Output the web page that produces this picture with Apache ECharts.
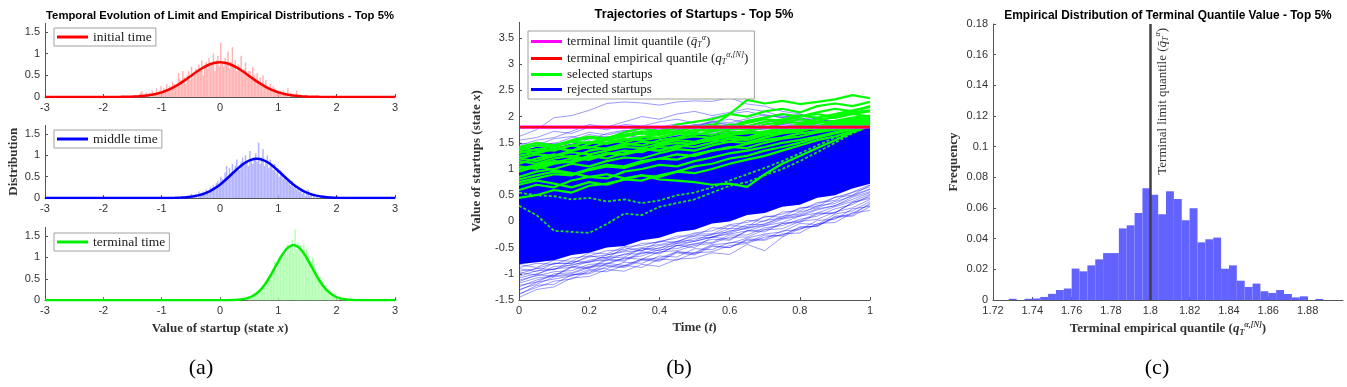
<!DOCTYPE html>
<html><head><meta charset="utf-8">
<script src="https://cdn.jsdelivr.net/npm/echarts@6/dist/echarts.min.js"></script>
<style>html,body{margin:0;padding:0;background:#fff}#c{width:1347px;height:387px}</style>
</head><body><div id="c"></div><script>
// ---------- DATA ----------
// (a) histograms: bin start, bin width, heights
const histInitialStart = -1.5, histMiddleStart = -0.6, histTerminalStart = 0.4, histBinWidth = 0.025;
const histInitial = [
 0,0,0.05,0,0,0.1,0.13,0.05,0,0.1,
 0.05,0.1,0,0.15,0.1,0.05,0.2,0.1,0.15,0.25,
 0.1,0.2,0.15,0.3,0.2,0.25,0.15,0.35,0.3,0.25,
 0.3,0.55,0.4,0.35,0.6,0.45,0.3,0.5,0.6,0.4,
 0.7,0.45,0.5,0.65,0.55,0.75,0.6,0.85,0.5,0.7,
 0.8,0.65,0.9,0.7,0.75,1.0,0.6,0.85,0.95,0.7,
 1.25,0.8,0.7,0.9,0.75,1.05,0.65,0.8,1.15,0.7,
 0.85,0.6,0.75,0.7,0.95,0.55,0.65,0.8,0.5,0.6,
 0.6,0.45,0.7,0.5,0.4,0.55,0.35,0.45,0.3,0.5,
 0.3,0.4,0.25,0.2,0.3,0.15,0.25,0.2,0.1,0.15,
 0.1,0.15,0.05,0.15,0.1,0.05,0.2,0,0.1,0.05,
 0,0.05,0.15,0,0,0.05,0,0,0,0];
const histMiddle = [
 0,0.05,0,0,0.1,0,0.05,0.1,0,0.15,
 0.05,0.1,0.15,0.1,0.2,0.15,0.1,0.25,0.2,0.3,
 0.25,0.35,0.4,0.3,0.5,0.45,0.35,0.6,0.75,0.5,
 0.7,0.55,0.8,0.6,0.75,0.9,0.7,0.65,0.85,0.95,
 0.8,1.0,0.85,0.75,1.1,0.9,0.8,0.95,1.05,0.85,
 1.3,0.8,0.95,1.15,0.75,0.85,1.0,0.7,0.9,0.75,
 0.65,0.8,0.6,0.7,0.5,0.65,0.55,0.45,0.5,0.4,
 0.45,0.35,0.3,0.4,0.25,0.3,0.2,0.25,0.15,0.2,
 0.1,0.15,0.05,0.1,0.2,0.05,0.1,0,0.05,0,
 0.05,0,0,0.05,0,0];
const histTerminal = [
 0,0.05,0,0.1,0.05,0.05,0.1,0.15,0.1,0.2,
 0.2,0.25,0.3,0.35,0.3,0.45,0.4,0.55,0.5,0.6,
 0.75,0.9,0.7,0.85,1.0,0.95,1.1,1.0,1.2,1.05,
 1.3,1.15,1.25,1.4,1.1,1.65,1.2,1.35,1.25,1.3,
 1.15,1.3,1.0,1.2,1.05,0.95,0.7,1.0,0.85,0.75,
 0.65,0.5,0.55,0.4,0.45,0.3,0.35,0.25,0.2,0.25,
 0.15,0.1,0.15,0.05,0.1,0.05,0,0.05,0.05,0,
 0,0.05,0,0,0.05,0,0,0,0,0];
// (a) limit densities [x, density]
const curveInitial = [[-3,0],[-2.2,0],[-1.9,0.001],[-1.7,0.003],[-1.6,0.005],[-1.5,0.009],[-1.4,0.016],[-1.3,0.027],[-1.2,0.045],[-1.1,0.071],[-1.0,0.108],[-0.9,0.158],[-0.8,0.222],[-0.7,0.300],[-0.6,0.389],[-0.5,0.485],[-0.4,0.581],[-0.3,0.668],[-0.2,0.738],[-0.1,0.784],[0,0.800],[0.1,0.784],[0.2,0.738],[0.3,0.668],[0.4,0.581],[0.5,0.485],[0.6,0.389],[0.7,0.300],[0.8,0.222],[0.9,0.158],[1.0,0.108],[1.1,0.071],[1.2,0.045],[1.3,0.027],[1.4,0.016],[1.5,0.009],[1.6,0.005],[1.7,0.003],[1.9,0.001],[2.2,0],[3,0]];
const curveMiddle = [[-3,0],[-1.5,0],[-0.97,0.001],[-0.77,0.005],[-0.67,0.010],[-0.57,0.019],[-0.47,0.035],[-0.37,0.062],[-0.27,0.103],[-0.17,0.163],[-0.07,0.245],[0.03,0.348],[0.13,0.468],[0.23,0.597],[0.33,0.722],[0.43,0.826],[0.53,0.895],[0.63,0.920],[0.73,0.895],[0.83,0.826],[0.93,0.722],[1.03,0.597],[1.13,0.468],[1.23,0.348],[1.33,0.245],[1.43,0.163],[1.53,0.103],[1.63,0.062],[1.73,0.035],[1.83,0.019],[1.93,0.010],[2.03,0.005],[2.23,0.001],[2.6,0],[3,0]];
const curveTerminal = [[-3,0],[-0.5,0],[0.06,0.001],[0.26,0.007],[0.36,0.019],[0.46,0.046],[0.56,0.101],[0.66,0.197],[0.76,0.351],[0.86,0.561],[0.96,0.807],[1.06,1.048],[1.16,1.224],[1.26,1.29],[1.36,1.224],[1.46,1.048],[1.56,0.807],[1.66,0.561],[1.76,0.351],[1.86,0.197],[1.96,0.101],[2.06,0.046],[2.16,0.019],[2.26,0.007],[2.46,0.001],[2.8,0],[3,0]];

// (b) trajectories
const timeGrid = [0,0.05,0.1,0.15,0.2,0.25,0.3,0.35,0.4,0.45,0.5,0.55,0.6,0.65,0.7,0.75,0.8,0.85,0.9,0.95,1];
const rejectedCoreUpper = [1.35,1.42,1.4,1.48,1.53,1.5,1.57,1.6,1.58,1.64,1.67,1.65,1.7,1.72,1.71,1.75,1.76,1.78,1.8,1.81,1.84];
const rejectedCoreLower = [-0.82,-0.78,-0.74,-0.64,-0.6,-0.5,-0.47,-0.36,-0.31,-0.2,-0.16,-0.04,0.0,0.12,0.16,0.28,0.32,0.45,0.5,0.63,0.72];
const rejectedLow = [
 [-1.45,-1.3,-1.25,-1.08,-1.05,-0.92,-0.95,-0.82,-0.86,-0.72,-0.7,-0.6,-0.63,-0.44,-0.56,-0.3,-0.14,-0.08,0.08,0.1,0.28],
 [-1.38,-1.26,-1.14,-1.1,-0.94,-0.96,-0.84,-0.88,-0.72,-0.74,-0.6,-0.58,-0.46,-0.42,-0.3,-0.26,-0.12,-0.08,0.06,0.16,0.32],
 [-1.3,-1.2,-1.06,-1.02,-0.98,-0.8,-0.84,-0.72,-0.7,-0.58,-0.6,-0.44,-0.42,-0.32,-0.24,-0.2,-0.04,-0.06,0.14,0.2,0.38],
 [-1.22,-1.16,-1.0,-0.98,-0.86,-0.82,-0.7,-0.72,-0.58,-0.56,-0.46,-0.42,-0.3,-0.3,-0.16,-0.14,0.0,0.04,0.18,0.26,0.42],
 [-1.15,-1.02,-1.04,-0.86,-0.88,-0.72,-0.74,-0.58,-0.62,-0.46,-0.44,-0.34,-0.36,-0.18,-0.2,-0.04,-0.02,0.14,0.16,0.36,0.47],
 [-1.08,-1.0,-0.9,-0.88,-0.76,-0.74,-0.62,-0.62,-0.5,-0.46,-0.38,-0.3,-0.24,-0.18,-0.08,-0.02,0.1,0.16,0.28,0.38,0.52],
 [-1.0,-0.9,-0.92,-0.76,-0.78,-0.64,-0.58,-0.56,-0.46,-0.42,-0.32,-0.3,-0.18,-0.14,-0.04,0.06,0.12,0.24,0.3,0.46,0.57],
 [-0.95,-0.9,-0.8,-0.8,-0.68,-0.64,-0.56,-0.5,-0.44,-0.38,-0.28,-0.26,-0.14,-0.12,0.02,0.06,0.18,0.26,0.38,0.48,0.61],
 [-1.25,-1.12,-1.04,-1.0,-0.88,-0.84,-0.86,-0.72,-0.74,-0.58,-0.62,-0.46,-0.5,-0.34,-0.34,-0.18,-0.16,0.02,0.04,0.24,0.29],
 [-1.4,-1.22,-1.2,-1.02,-1.0,-0.86,-0.88,-0.74,-0.76,-0.6,-0.64,-0.48,-0.5,-0.36,-0.36,-0.24,-0.22,-0.04,-0.02,0.16,0.21],
 [-0.9,-0.96,-0.8,-0.8,-0.66,-0.7,-0.5,-0.56,-0.38,-0.4,-0.24,-0.24,-0.08,-0.1,0.1,0.08,0.26,0.28,0.46,0.5,0.69],
 [-1.18,-1.08,-1.04,-0.88,-0.9,-0.74,-0.76,-0.6,-0.6,-0.46,-0.5,-0.3,-0.34,-0.18,-0.16,-0.04,0.01,0.16,0.16,0.36,0.44],
 [-0.82,-0.88,-0.74,-0.76,-0.6,-0.62,-0.48,-0.46,-0.38,-0.32,-0.22,-0.18,-0.06,-0.02,0.08,0.14,0.24,0.33,0.46,0.55,0.66],
 [-1.05,-0.94,-0.92,-0.82,-0.78,-0.7,-0.68,-0.52,-0.56,-0.42,-0.38,-0.3,-0.22,-0.12,-0.08,0.04,0.1,0.22,0.3,0.42,0.55],
 [-1.12,-1.04,-0.96,-0.94,-0.82,-0.8,-0.7,-0.66,-0.54,-0.52,-0.42,-0.4,-0.26,-0.26,-0.12,-0.08,0.04,0.1,0.24,0.32,0.5],
 [-0.88,-0.8,-0.82,-0.7,-0.66,-0.56,-0.54,-0.42,-0.4,-0.28,-0.28,-0.12,-0.14,0.02,0.0,0.18,0.2,0.36,0.4,0.56,0.7],
 [-1.32,-1.16,-1.1,-1.04,-0.92,-0.9,-0.78,-0.8,-0.66,-0.68,-0.52,-0.54,-0.4,-0.4,-0.26,-0.28,-0.1,-0.1,0.1,0.12,0.35],
 [-0.98,-1.02,-0.86,-0.84,-0.74,-0.68,-0.64,-0.52,-0.52,-0.38,-0.36,-0.24,-0.2,-0.06,-0.06,0.1,0.14,0.3,0.34,0.5,0.62]];
const rejectedHigh = [
 [1.62,1.75,1.98,2.02,2.12,2.25,2.28,2.26,2.22,2.28,2.3,2.29,2.36,2.24,2.2,2.1,2.05,1.95,1.92,1.85,1.78],
 [1.45,1.55,1.6,1.72,1.85,1.8,1.9,2.0,1.95,2.05,2.1,2.02,2.08,2.15,2.1,2.0,1.95,1.98,1.88,1.82,1.75],
 [1.3,1.42,1.5,1.45,1.58,1.62,1.55,1.7,1.75,1.82,1.78,1.9,1.95,1.88,2.0,2.05,1.98,1.9,1.85,1.8,1.72],
 [1.05,1.2,1.3,1.42,1.5,1.55,1.65,1.6,1.72,1.78,1.85,1.8,1.78,1.9,1.95,1.88,1.82,1.85,1.78,1.8,1.76],
 [1.2,1.25,1.35,1.3,1.4,1.5,1.48,1.55,1.6,1.65,1.6,1.7,1.75,1.82,1.78,1.85,1.9,1.82,1.88,1.83,1.79],
 [0.95,1.1,1.15,1.25,1.2,1.35,1.45,1.4,1.5,1.55,1.62,1.58,1.68,1.72,1.8,1.85,1.8,1.9,1.86,1.8,1.77],
 [1.4,1.5,1.48,1.6,1.7,1.65,1.72,1.78,1.7,1.75,1.82,1.88,1.85,1.92,1.98,2.02,1.95,1.92,1.9,1.84,1.78],
 [1.1,1.15,1.28,1.35,1.3,1.42,1.38,1.5,1.58,1.52,1.6,1.68,1.72,1.7,1.78,1.75,1.82,1.88,1.92,1.86,1.79],
 [1.55,1.6,1.72,1.68,1.8,1.75,1.85,1.82,1.9,1.95,1.88,1.98,2.05,2.1,2.02,1.98,2.05,1.95,1.9,1.82,1.77],
 [1.25,1.32,1.3,1.4,1.45,1.42,1.52,1.6,1.55,1.62,1.7,1.65,1.72,1.78,1.75,1.7,1.78,1.74,1.8,1.76,1.74],
 [1.5,1.45,1.58,1.62,1.55,1.68,1.74,1.7,1.8,1.86,1.8,1.92,1.88,1.96,2.04,1.98,1.92,1.96,1.86,1.8,1.76],
 [1.36,1.48,1.44,1.54,1.66,1.6,1.68,1.66,1.78,1.74,1.84,1.9,1.84,1.8,1.88,1.94,1.88,1.82,1.84,1.78,1.73]];
const selected = [
 [1.38,1.45,1.42,1.52,1.6,1.55,1.62,1.68,1.65,1.72,1.7,1.82,2.05,2.32,2.25,2.3,2.24,2.28,2.33,2.41,2.35],
 [1.42,1.5,1.45,1.55,1.62,1.58,1.7,1.78,1.72,1.85,1.9,1.95,2.05,2.0,2.1,2.15,2.08,2.2,2.25,2.2,2.28],
 [1.25,1.32,1.4,1.35,1.48,1.55,1.5,1.6,1.68,1.72,1.8,1.85,1.8,1.92,1.98,2.05,2.0,2.08,2.15,2.1,2.2],
 [1.1,1.2,1.28,1.22,1.35,1.4,1.48,1.45,1.55,1.6,1.68,1.65,1.75,1.82,1.78,1.88,1.95,1.9,2.02,2.08,2.12],
 [1.35,1.3,1.38,1.45,1.4,1.5,1.58,1.55,1.6,1.68,1.65,1.72,1.78,1.75,1.85,1.9,1.88,1.95,1.98,2.05,2.0],
 [0.95,1.05,1.12,1.2,1.18,1.28,1.35,1.32,1.45,1.5,1.48,1.58,1.65,1.7,1.68,1.78,1.85,1.82,1.9,1.95,1.98],
 [1.2,1.28,1.25,1.35,1.42,1.38,1.45,1.52,1.5,1.58,1.62,1.6,1.7,1.72,1.8,1.78,1.85,1.9,1.88,1.92,1.95],
 [0.85,0.95,1.0,1.1,1.05,1.15,1.22,1.2,1.3,1.38,1.35,1.45,1.52,1.5,1.6,1.68,1.72,1.8,1.85,1.88,1.92],
 [1.05,1.0,1.1,1.15,1.25,1.2,1.3,1.38,1.35,1.42,1.5,1.55,1.52,1.6,1.65,1.72,1.78,1.75,1.82,1.85,1.9],
 [0.75,0.82,0.9,0.88,0.98,1.05,1.02,1.12,1.2,1.18,1.28,1.35,1.42,1.4,1.5,1.58,1.62,1.7,1.75,1.8,1.88],
 [0.6,0.7,0.65,0.78,0.85,0.82,0.95,1.0,1.08,1.05,1.15,1.22,1.3,1.35,1.42,1.5,1.55,1.62,1.7,1.78,1.85],
 [0.45,0.5,0.6,0.55,0.68,0.72,0.8,0.88,0.85,0.95,1.05,1.1,1.2,1.25,1.35,1.42,1.5,1.6,1.68,1.75,1.83],
 [1.0,1.05,0.98,0.92,0.85,0.9,0.82,0.88,0.8,0.78,0.75,0.7,0.72,0.66,0.9,1.1,1.25,1.4,1.55,1.7,1.82],
 [1.15,1.1,1.2,1.25,1.18,1.3,1.28,1.38,1.35,1.45,1.42,1.5,1.58,1.55,1.65,1.7,1.75,1.8,1.85,1.82,1.9],
 [0.7,0.78,0.72,0.65,0.75,0.7,0.8,0.78,0.88,0.95,0.92,1.0,1.1,1.18,1.25,1.35,1.45,1.55,1.62,1.72,1.84],
 [1.3,1.38,1.35,1.45,1.52,1.48,1.55,1.62,1.6,1.68,1.75,1.72,1.8,1.88,1.95,1.92,2.0,2.05,1.98,2.05,2.1],
 [1.0,1.08,1.15,1.12,1.22,1.3,1.28,1.35,1.42,1.4,1.5,1.55,1.62,1.6,1.7,1.75,1.72,1.8,1.85,1.9,1.95],
 [1.4,1.35,1.45,1.52,1.5,1.6,1.65,1.72,1.7,1.78,1.82,1.75,1.85,1.82,1.9,1.95,2.02,1.98,2.05,2.12,2.18],
 [1.2,1.15,1.25,1.32,1.28,1.35,1.42,1.4,1.48,1.55,1.52,1.6,1.65,1.68,1.72,1.78,1.82,1.88,1.92,1.98,2.02],
 [0.8,0.88,0.95,0.9,1.0,1.08,1.05,1.15,1.2,1.28,1.25,1.35,1.4,1.48,1.55,1.6,1.68,1.72,1.78,1.82,1.86]];
// selected startups that cross the dense rejected mass (drawn broken)
const selectedLow = [
 [0.3,0.12,-0.18,-0.2,-0.22,-0.05,0.15,0.12,0.28,0.35,0.42,0.55,0.68,0.75,0.88,1.0,1.15,1.32,1.5,1.68,1.82],
 [0.55,0.5,0.48,0.42,0.45,0.38,0.42,0.35,0.4,0.5,0.55,0.65,0.78,0.9,1.02,1.15,1.3,1.45,1.6,1.72,1.83]];
const limitQuantile = 1.80;
const empiricalQuantile = 1.80;

// (c) histogram of terminal empirical quantile
const quantHistStart = 1.728, quantHistBinWidth = 0.004;
const quantHist = [0.0008,0,0.0008,0.001,0.002,0.004,0.0065,0.0075,0.0205,0.0187,0.0226,0.0265,0.0306,0.0306,0.0467,0.0487,0.0567,0.0728,0.0687,0.0559,0.0709,0.0659,0.052,0.0598,0.0376,0.0396,0.0407,0.0204,0.0226,0.0126,0.0085,0.0107,0.0057,0.0046,0.0065,0.0039,0.0017,0.0024,0,0.0007];

// tick settings
const panelAXTicks = {min:-3, max:3, interval:1};
const panelAYTicks = {min:0, max:1.7, interval:0.5};
const panelBXTicks = {min:0, max:1, interval:0.2};
const panelBYTicks = {min:-1.5, max:3.8, interval:0.5};
const panelCXTicks = {min:1.72, max:1.898, interval:0.02};
const panelCYTicks = {min:0, max:0.18, interval:0.02};

// ---------- STYLE ----------
const SANS = 'Liberation Sans, Arial, sans-serif';
const SERIF = 'Liberation Serif, Times New Roman, serif';
const AX = '#555';
const TXT = '#333';
const mathRich = {
  it:{fontStyle:'italic', fontFamily:SERIF, fontSize:13, fontWeight:'bold', color:'#333', lineHeight:16},
  sup:{fontFamily:SERIF, fontSize:8, fontStyle:'italic', verticalAlign:'top', color:'#333', lineHeight:16},
  sub:{fontFamily:SERIF, fontSize:8, fontStyle:'italic', verticalAlign:'bottom', color:'#333', lineHeight:16}
};

function valAxis(grid, ticks, extra){
  return Object.assign({
    type:'value', gridIndex:grid, min:ticks.min, max:ticks.max, interval:ticks.interval,
    axisLine:{show:true, onZero:false, lineStyle:{color:AX, width:1}},
    axisTick:{show:true, inside:true, length:3, lineStyle:{color:AX}},
    axisLabel:{color:TXT, fontFamily:SANS, fontSize:11, margin:5, showMaxLabel:true},
    splitLine:{show:false}
  }, extra||{});
}

function histSeries(name, xi, start, w, vals, color, extra){
  const data = vals.map((h,i)=>[start+i*w, start+(i+1)*w, h]);
  return Object.assign({
    type:'custom', name:name, xAxisIndex:xi, yAxisIndex:xi, silent:true, animation:false,
    encode:{x:[0,1], y:2},
    renderItem:function(params, api){
      const p0 = api.coord([api.value(0), api.value(2)]);
      const p1 = api.coord([api.value(1), 0]);
      return {type:'rect', shape:{x:p0[0], y:p0[1], width:p1[0]-p0[0], height:p1[1]-p0[1]}, style:{fill:color}};
    },
    data:data
  }, extra||{});
}
function curveSeries(name, xi, data, color){
  return {type:'line', name:name, xAxisIndex:xi, yAxisIndex:xi, data:data, symbol:'none', smooth:0.2,
    lineStyle:{color:color, width:2.5}, itemStyle:{color:color}, silent:true, animation:false, z:3};
}
function trajSeries(name, arr, color, width, z, type){
  return {type:'line', name:name, xAxisIndex:3, yAxisIndex:3, data:timeGrid.map((t,i)=>[t, arr[i]]),
    symbol:'none', lineStyle:{color:color, width:width, type:type||'solid'}, itemStyle:{color:color}, silent:true, animation:false, z:z||2};
}

const series = [];
// (a)
series.push(histSeries('hist initial', 0, histInitialStart, histBinWidth, histInitial, '#ffb3b3'));
series.push(curveSeries('initial time', 0, curveInitial, '#ff0000'));
series.push(histSeries('hist middle', 1, histMiddleStart, histBinWidth, histMiddle, '#b3b3ff'));
series.push(curveSeries('middle time', 1, curveMiddle, '#0000ff'));
series.push(histSeries('hist terminal', 2, histTerminalStart, histBinWidth, histTerminal, '#b3ffb3'));
series.push(curveSeries('terminal time', 2, curveTerminal, '#00ee00'));
// (b)
series.push({type:'custom', name:'rejected core', xAxisIndex:3, yAxisIndex:3, silent:true, animation:false, z:2,
  data:[[0, 0]],
  renderItem:function(params, api){
    const pts = [];
    for (let i=0;i<timeGrid.length;i++) pts.push(api.coord([timeGrid[i], rejectedCoreUpper[i]]));
    for (let i=timeGrid.length-1;i>=0;i--) pts.push(api.coord([timeGrid[i], rejectedCoreLower[i]]));
    return {type:'polygon', shape:{points:pts}, style:{fill:'#0000ff'}};
  }});
selectedLow.forEach(a=>series.push(trajSeries('selected startups', a, '#22dd22', 1.8, 2, [3,2])));
rejectedLow.forEach(a=>series.push(trajSeries('rejected startups', a, 'rgba(0,0,255,0.5)', 0.8)));
rejectedHigh.forEach(a=>series.push(trajSeries('rejected startups', a, 'rgba(0,0,255,0.5)', 0.8)));
selected.forEach(a=>series.push(trajSeries('selected startups', a, '#00ff00', 2.2, 3)));
series.push(trajSeries('terminal limit quantile', timeGrid.map(()=>limitQuantile), '#ff00ff', 3.4, 4));
series.push(trajSeries('terminal empirical quantile', timeGrid.map(()=>empiricalQuantile), 'rgba(255,0,0,0.85)', 2.2, 5));
// (c)
series.push(histSeries('quantile hist', 4, quantHistStart, quantHistBinWidth, quantHist, '#6262ff', {
  markLine:{symbol:'none', silent:true, animation:false,
    lineStyle:{color:'#404040', width:2.5, type:'solid'},
    label:{show:true, position:'insideEndBottom', distance:4, color:'#333', fontFamily:SERIF, fontSize:13,
      formatter:'Terminal limit quantile ({q|q̄}{sub|T}{sup|α})',
      rich:{q:{fontStyle:'italic', fontFamily:SERIF, fontSize:13, color:'#333', lineHeight:16},
            sup:{fontFamily:SERIF, fontSize:8, fontStyle:'italic', verticalAlign:'top', color:'#333', lineHeight:16},
            sub:{fontFamily:SERIF, fontSize:8, fontStyle:'italic', verticalAlign:'bottom', color:'#333', lineHeight:16}}},
    data:[{xAxis:limitQuantile}]}
}));

const legendBase = {orient:'vertical', selectedMode:false, borderColor:'#a0a0a0', borderWidth:1, backgroundColor:'#fff',
  icon:'rect', itemWidth:31, itemHeight:3, padding:[2,4,2,3], itemGap:3,
  textStyle:{fontFamily:SERIF, fontSize:13.5, color:'#222'}};
const legRich = {
  m:{fontStyle:'italic', fontFamily:SERIF, fontSize:13, color:'#222', lineHeight:15},
  sup:{fontFamily:SERIF, fontSize:8, fontStyle:'italic', verticalAlign:'top', color:'#222', lineHeight:15},
  sub:{fontFamily:SERIF, fontSize:8, fontStyle:'italic', verticalAlign:'bottom', color:'#222', lineHeight:15}
};
function legItem(name, color){ return {name:name, itemStyle:{color:color}, lineStyle:{color:color, width:3}}; }

const option = {
  animation:false,
  backgroundColor:'#fff',
  title:[
    {text:'Temporal Evolution of Limit and Empirical Distributions - Top 5%', left:220, top:10, textAlign:'center', padding:0,
      textStyle:{fontFamily:SANS, fontWeight:'bold', fontSize:11.3, color:'#000'}},
    {text:'Trajectories of Startups - Top 5%', left:694, top:8, textAlign:'center', padding:0,
      textStyle:{fontFamily:SANS, fontWeight:'bold', fontSize:12.8, color:'#000'}},
    {text:'Empirical Distribution of Terminal Quantile Value - Top 5%', left:1168, top:10, textAlign:'center', padding:0,
      textStyle:{fontFamily:SANS, fontWeight:'bold', fontSize:11.9, color:'#000'}},
    {text:'(a)', left:201, top:357, textAlign:'center', padding:0, textStyle:{fontFamily:SERIF, fontWeight:'normal', fontSize:22, color:'#000'}},
    {text:'(b)', left:679, top:357, textAlign:'center', padding:0, textStyle:{fontFamily:SERIF, fontWeight:'normal', fontSize:22, color:'#000'}},
    {text:'(c)', left:1157, top:357, textAlign:'center', padding:0, textStyle:{fontFamily:SERIF, fontWeight:'normal', fontSize:22, color:'#000'}}
  ],
  legend:[
    Object.assign({}, legendBase, {left:54, top:28, data:[legItem('initial time', '#ff0000')]}),
    Object.assign({}, legendBase, {left:54, top:130, data:[legItem('middle time', '#0000ff')]}),
    Object.assign({}, legendBase, {left:54, top:233, data:[legItem('terminal time', '#00ee00')]}),
    Object.assign({}, legendBase, {left:528, top:31, itemGap:2, padding:[3,6,3,3], textStyle:{fontFamily:SERIF, fontSize:13, color:'#222', rich:legRich},
      formatter:function(n){
        if (n==='terminal limit quantile') return 'terminal limit quantile ({m|q̄}{sub|T}{sup|α})';
        if (n==='terminal empirical quantile') return 'terminal empirical quantile ({m|q}{sub|T}{sup|α,[N]})';
        return n;
      },
      data:[legItem('terminal limit quantile', '#ff00ff'), legItem('terminal empirical quantile', '#ff0000'),
            legItem('selected startups', '#00ff00'), legItem('rejected startups', '#0000ff')]})
  ],
  grid:[
    {left:45, top:23.3, width:350, height:73.7},
    {left:45, top:125.5, width:350, height:72.5},
    {left:45, top:227.4, width:350, height:72.9},
    {left:519, top:22.3, width:351, height:277.7},
    {left:993, top:24, width:350, height:276}
  ],
  xAxis:[
    valAxis(0, panelAXTicks),
    valAxis(1, panelAXTicks),
    valAxis(2, panelAXTicks, {name:'Value of startup (state {it|x})', nameLocation:'middle', nameGap:20,
      nameTextStyle:{fontFamily:SERIF, fontWeight:'bold', fontSize:13, color:'#333', rich:mathRich}}),
    valAxis(3, panelBXTicks, {name:'Time ({it|t})', nameLocation:'middle', nameGap:19,
      nameTextStyle:{fontFamily:SERIF, fontWeight:'bold', fontSize:13, color:'#333', rich:mathRich}}),
    valAxis(4, panelCXTicks, {name:'Terminal empirical quantile ({it|q}{sub|T}{sup|α,[N]})', nameLocation:'middle', nameGap:19,
      nameTextStyle:{fontFamily:SERIF, fontWeight:'bold', fontSize:13, color:'#333', rich:mathRich}})
  ],
  yAxis:[
    valAxis(0, panelAYTicks),
    valAxis(1, panelAYTicks, {name:'Distribution', nameLocation:'middle', nameGap:25,
      nameTextStyle:{fontFamily:SERIF, fontWeight:'bold', fontSize:13, color:'#333'}}),
    valAxis(2, panelAYTicks),
    valAxis(3, panelBYTicks, {name:'Value of startups (state {it|x})', nameLocation:'middle', nameGap:34,
      nameTextStyle:{fontFamily:SERIF, fontWeight:'bold', fontSize:13, color:'#333', rich:mathRich}}),
    valAxis(4, panelCYTicks, {name:'Frequency', nameLocation:'middle', nameGap:33,
      nameTextStyle:{fontFamily:SERIF, fontWeight:'bold', fontSize:13, color:'#333'}})
  ],
  series:series
};
option.yAxis[0].axisLabel.showMaxLabel=false;
option.yAxis[1].axisLabel.showMaxLabel=false;
option.yAxis[2].axisLabel.showMaxLabel=false;
option.yAxis[3].axisLabel.showMaxLabel=false;
option.xAxis[4].axisLabel.showMaxLabel=false;

const chart = echarts.init(document.getElementById('c'), null, {renderer:'canvas'});
chart.setOption(option);
</script></body></html>
